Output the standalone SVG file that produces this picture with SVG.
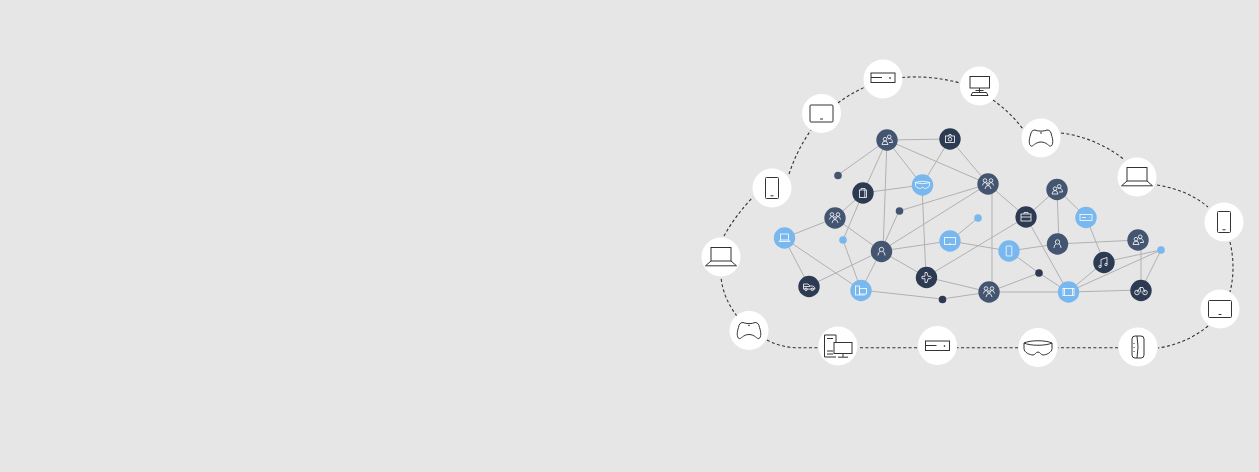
<svg xmlns="http://www.w3.org/2000/svg" width="1259" height="472" viewBox="0 0 1259 472">
<style>
.e{stroke:#b1b1b1;stroke-width:1;fill:none}
.d{stroke:#333;stroke-width:1.100;fill:none;stroke-dasharray:3 2.400}
.o{fill:#fff}
.s{fill:#435570}.n{fill:#2d3b52}.b{fill:#78b8ee}
.k{fill:none;stroke:#333;stroke-width:1}
.w{fill:none;stroke:#fff;stroke-width:.8}
</style>
<defs>
<g id="iServer" class="k"><rect x="-12" y="-5" width="24" height="9.500"/><path d="M-12 -.5H-1"/><circle cx="7" cy="0" r=".5"/></g>
<g id="iTablet" class="k"><rect x="-11.500" y="-8.500" width="23" height="17" rx="1"/><path d="M-1.500 5.500H1.500"/></g>
<g id="iPhone" class="k"><rect x="-6.500" y="-10.500" width="13" height="21" rx="1"/><path d="M-1.500 7.800H1.500"/></g>
<g id="iLaptop" class="k"><rect x="-10" y="-9.500" width="20" height="13.500"/><path d="M-10 4L-15.500 8.800H15.500L10 4"/></g>
<g id="iPad" class="k"><path d="M-6 -8C-9 -8 -10 -6 -10.500 -3C-12 1 -12.500 7 -10 8C-8 9 -6 4 0 4C6 4 8 9 10 8C12.500 7 12 1 10.500 -3C10 -6 9 -8 6 -8C3 -6.500 -3 -6.500 -6 -8Z"/><circle cx="0" cy="-5" r=".4"/></g>
<g id="wLaptop" class="w"><rect x="-4" y="-4" width="8" height="6"/><path d="M-4 2L-5.500 3.500H5.500L4 2"/></g>
<g id="wPeople" class="w"><circle cx="2.200" cy="-3.200" r="1.800"/><circle cx="-2" cy="-.8" r="1.800"/><path d="M-5 4.500Q-4.500 1 -2 1Q.5 1 1 4.500ZM1 -1.200Q2.200 -1.400 3.500 -1.300Q5.500 0 5.500 2.500H2"/></g>
<g id="wCam" class="w"><rect x="-4.500" y="-3" width="9" height="6.500"/><circle cx="0" cy=".2" r="1.800"/><path d="M-2 -3L-1 -4.500H1L2 -3"/></g>
<g id="wVr" class="w"><path d="M-7 -2.500C-3 -4 3 -4 7 -2.500V.5C7 2.500 3 3.500 2 3.500L0 2L-2 3.500C-3 3.500 -7 2.500 -7 .5Z"/><path d="M-7 -2.500C-3 -1 3 -1 7 -2.500"/></g>
<g id="wBag" class="w"><rect x="-3.500" y="-3" width="7" height="7.500"/><path d="M-2 -3V-4.500H2V-3M1.800 -3V4.500"/></g>
<g id="wTri" class="w"><circle cx="-3" cy="-3.500" r="1.800"/><circle cx="3" cy="-3.500" r="1.800"/><circle cx="0" cy="0" r="1.300"/><path d="M-5.500 1.500Q-5 -1.500 -3 -1.500L-1 -.5M5.500 1.500Q5 -1.500 3 -1.500L1 -.5M-3 5Q-2.500 1.500 0 1.500Q2.500 1.500 3 5"/></g>
<g id="wPerson" class="w"><circle cx="0" cy="-2" r="2.200"/><path d="M-3.500 4Q-3.500 .5 -1.500 .2M3.500 4Q3.500 .5 1.500 .2"/></g>
<g id="wScreen" class="w"><rect x="-5.500" y="-3.500" width="11" height="7"/><path d="M-1 3H1"/></g>
<g id="wPhone" class="w"><rect x="-2.800" y="-5" width="5.600" height="10" rx=".5"/></g>
<g id="wPlane" class="w"><path d="M-4.500 -1.200H-1.500V-5H.5L1.500 -1.200H4Q5.500 0 4 1.200H1.500L.5 5H-1.500V1.200H-4.500Z"/></g>
<g id="wCar" class="w"><path d="M-5.500 2.500V-2.500H-1L1 -.5H4Q6 .5 6 2.500H-5.500ZM-5.500 0H1"/><circle cx="-3" cy="2.800" r="1.300"/><circle cx="3.300" cy="2.800" r="1.300"/></g>
<g id="wFolder" class="w"><rect x="-5.500" y="-4.500" width="4" height="9"/><rect x="-1.500" y="-2" width="7" height="5.500"/><path d="M-1.500 4.500H4"/></g>
<g id="wBrief" class="w"><rect x="-5" y="-3" width="10" height="7"/><path d="M-2 -3V-4.500H2V-3M-5 0H5"/></g>
<g id="wRouter" class="w"><rect x="-6" y="-3" width="12" height="6"/><path d="M-4 0H0M3.500 0H4"/></g>
<g id="wMusic" class="w"><path d="M-3 4V-3L3 -5V2"/><circle cx="-4" cy="4" r="1.200"/><circle cx="2" cy="2" r="1.200"/></g>
<g id="wBike" class="w"><circle cx="-4" cy="2" r="2.300"/><circle cx="4" cy="2" r="2.300"/><path d="M-4 2L-1 -3H2L4 2M-1 -3L0 2"/></g>
<g id="wTab" class="w"><rect x="-5.500" y="-3.500" width="11" height="7"/><path d="M-4 -3.500V3.500M4 -3.500V3.500"/></g>
</defs>
<rect width="1259" height="472" fill="#e6e6e6"/>
<g id="connectors">
<g id="cloud">
<path class="d" d="M767 340Q780 347 795 347.700H818"/>
<path class="d" d="M737 316Q723 298 721 277"/>
<path class="d" d="M724 236Q735 216 753 197"/>
<path class="d" d="M789 174Q797 150 811 130"/>
<path class="d" d="M838 103Q850 94 865 87"/>
<path class="d" d="M902 77.500Q930 75 960 83"/>
<path class="d" d="M993 100Q1010 112 1023 129"/>
<path class="d" d="M1061 133Q1095 137 1125 160"/>
<path class="d" d="M1157 185Q1188 190 1208 207"/>
<path class="d" d="M1230 242Q1236 268 1230 292"/>
<path class="d" d="M1208 326Q1186 344 1158 348"/>
<path class="d" d="M1118 347.700H1058"/>
<path class="d" d="M1018 347.700H957"/>
<path class="d" d="M917 347.700H858"/>
</g>
<g id="edges">
<path class="e" d="M887 140L950 139M887 140L838 175M887 140L863 193M887 140L883 251M887 140L922 185M887 140L988 184M950 139L922 185M950 139L988 184M863 193L922 185M863 193L835 218M863 193L843 240M922 185L926 277M988 184L899 211M988 184L881 251M992 184L992 292M988 184L1026 217M899 211L881 251M835 218L784 238M835 218L881 251M843 240L861 290M784 238L809 286M784 238L861 290M881 251L809 286M881 251L861 290M881 251L926 277M881 251L950 241M950 241L978 218M950 241L1009 251M926 277L1026 217M926 277L989 292M861 290L942 299M942 299L989 292M989 292L1068 292M989 292L1039 273M1039 273L1009 251M1039 273L1068 292M1009 251L1057 244M1026 217L1068 292M1026 217L1057 189M1057 189L1059 244M1057 189L1086 217M1086 217L1104 262M1057 244L1138 240M1104 262L1068 292M1104 262L1161 250M1068 292L1161 250M1068 292L1141 290M1141 240L1141 290M1161 250L1141 290"/>
</g>
</g>
<g id="outer-nodes">
<g id="o-tablet-1" transform="translate(821.500 113.500)"><circle class="o" r="19.500"/><use href="#iTablet"/></g>
<g id="o-server-1" transform="translate(883 79)"><circle class="o" r="19.500"/><use href="#iServer" y="-1"/></g>
<g id="o-monitor" transform="translate(979.500 86)"><circle class="o" r="19.500"/><g class="k"><rect x="-9.500" y="-9.500" width="19.500" height="11.500"/><path d="M0 2V6M-4 4.500H4M-7 6.500H7L8.500 9.500H-8.500Z"/></g></g>
<g id="o-gamepad-1" transform="translate(1041 138)"><circle class="o" r="19.500"/><use href="#iPad"/></g>
<g id="o-laptop-1" transform="translate(1137 177)"><circle class="o" r="19.500"/><use href="#iLaptop"/></g>
<g id="o-phone-1" transform="translate(1224 222)"><circle class="o" r="19.500"/><use href="#iPhone"/></g>
<g id="o-tablet-2" transform="translate(1220 309)"><circle class="o" r="19.500"/><use href="#iTablet"/></g>
<g id="o-wearable" transform="translate(1138 347)"><circle class="o" r="19.500"/><g class="k"><path d="M-3 -11H3Q6 -11 6 -8V8Q6 11 3 11H-3Q-6 11 -6 8V-8Q-6 -11 -3 -11Z"/><path d="M-1 -11Q1 0 -1 11"/><path d="M-4 -4V-3M-4 0V1M-4 4V5"/></g></g>
<g id="o-vr" transform="translate(1038 347.500)"><circle class="o" r="19.500"/><path class="k" d="M-14 -4.500C-8 -7.500 8 -7.500 14 -4.500V1C14 5 8 7.500 5 7.500C3 7.500 2 4.500 0 4.500C-2 4.500 -3 7.500 -5 7.500C-8 7.500 -14 5 -14 1Z M-14 -4.500C-8 -1.500 8 -1.500 14 -4.500"/></g>
<g id="o-server-2" transform="translate(937.500 345.500)"><circle class="o" r="19.500"/><use href="#iServer" y=".5"/></g>
<g id="o-pc" transform="translate(838 346)"><circle class="o" r="19.500"/><g class="k"><path d="M-2 11H-13.500V-11H-2V-4"/><path d="M-11 -7.500H-5M-11 5H-5M-11 8H-5"/><rect x="-4" y="-3.500" width="18" height="11"/><path d="M5 7.500V11M0 11.200H10"/></g></g>
<g id="o-gamepad-2" transform="translate(749 330.500)"><circle class="o" r="19.500"/><use href="#iPad"/></g>
<g id="o-laptop-2" transform="translate(721 257)"><circle class="o" r="19.500"/><use href="#iLaptop"/></g>
<g id="o-phone-2" transform="translate(772 188)"><circle class="o" r="19.500"/><use href="#iPhone"/></g>
</g>
<g id="inner-nodes">
<g id="n1" transform="translate(887 140)"><circle class="s" r="10.700"/><use href="#wPeople"/></g>
<g id="n2" transform="translate(950 139)"><circle class="n" r="10.700"/><use href="#wCam"/></g>
<g id="n3" transform="translate(988 184)"><circle class="s" r="10.700"/><use href="#wTri"/></g>
<g id="n4" transform="translate(922.500 185)"><circle class="b" r="10.700"/><use href="#wVr"/></g>
<g id="n5" transform="translate(863 193)"><circle class="n" r="10.700"/><use href="#wBag"/></g>
<g id="n6" transform="translate(835 218)"><circle class="s" r="10.700"/><use href="#wTri"/></g>
<g id="n7" transform="translate(784.500 238)"><circle class="b" r="10.700"/><use href="#wLaptop"/></g>
<g id="n8" transform="translate(881.500 251.500)"><circle class="s" r="10.700"/><use href="#wPerson"/></g>
<g id="n9" transform="translate(950 241)"><circle class="b" r="10.700"/><use href="#wScreen"/></g>
<g id="n10" transform="translate(1009 251)"><circle class="b" r="10.700"/><use href="#wPhone"/></g>
<g id="n11" transform="translate(926.500 277.500)"><circle class="n" r="10.700"/><use href="#wPlane"/></g>
<g id="n12" transform="translate(809 286.500)"><circle class="n" r="10.700"/><use href="#wCar"/></g>
<g id="n13" transform="translate(861 290.500)"><circle class="b" r="10.700"/><use href="#wFolder"/></g>
<g id="n14" transform="translate(989 292)"><circle class="s" r="10.700"/><use href="#wTri"/></g>
<g id="n15" transform="translate(1026 217)"><circle class="n" r="10.700"/><use href="#wBrief"/></g>
<g id="n16" transform="translate(1057 189.500)"><circle class="s" r="10.700"/><use href="#wPeople"/></g>
<g id="n17" transform="translate(1086 217.500)"><circle class="b" r="10.700"/><use href="#wRouter"/></g>
<g id="n18" transform="translate(1057.500 244)"><circle class="s" r="10.700"/><use href="#wPerson"/></g>
<g id="n19" transform="translate(1104 262.500)"><circle class="n" r="10.700"/><use href="#wMusic"/></g>
<g id="n20" transform="translate(1138 240)"><circle class="s" r="10.700"/><use href="#wPeople"/></g>
<g id="n21" transform="translate(1141 290.500)"><circle class="n" r="10.700"/><use href="#wBike"/></g>
<g id="n22" transform="translate(1068.500 292)"><circle class="b" r="10.700"/><use href="#wTab"/></g>
<circle id="dot1" class="s" cx="838" cy="175.500" r="3.800"/>
<circle id="dot2" class="s" cx="899.500" cy="211" r="3.800"/>
<circle id="dot3" class="b" cx="843" cy="240" r="3.800"/>
<circle id="dot4" class="b" cx="978" cy="218" r="3.800"/>
<circle id="dot5" class="n" cx="942.500" cy="299.500" r="3.800"/>
<circle id="dot6" class="n" cx="1039" cy="273" r="3.800"/>
<circle id="dot7" class="b" cx="1161" cy="250" r="3.800"/>
</g>
</svg>
